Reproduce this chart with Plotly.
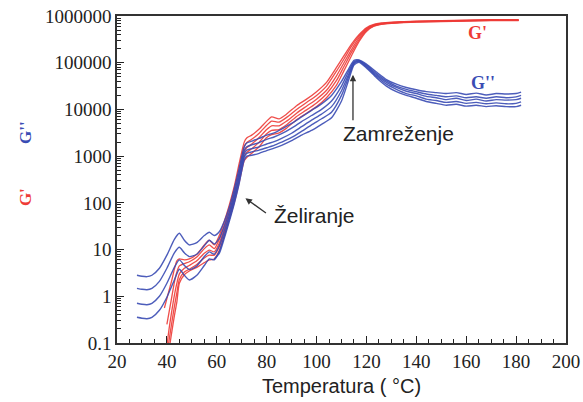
import numpy as np
import plotly.graph_objects as go

# ---- data (temperatures in °C, moduli stored as log10 values) ----
temp_red = [39, 40, 41, 42, 43, 44, 45, 47, 49, 52, 55, 57, 59, 61, 63, 65, 67, 69, 71,
            72, 74, 77, 80, 82, 85, 88, 92, 96, 100, 104, 108, 111, 114, 117, 120, 123, 126,
            130, 135, 140, 150, 160, 170, 181]

g1_log = [-0.25, -0.05, 0.15, 0.35, 0.58, 0.76, 0.8, 0.78, 0.8, 0.9, 1.1, 1.2, 1.1,
          1.3, 1.6, 1.95, 2.35, 2.85, 3.3, 3.39, 3.45, 3.58, 3.75, 3.84, 3.8,
          3.9, 4.08, 4.22, 4.38, 4.58, 4.9, 5.15, 5.4, 5.6, 5.75, 5.82, 5.85,
          5.87, 5.88, 5.89, 5.9, 5.91, 5.92, 5.92]
g2_log = [None, -0.6, -0.3, 0.0, 0.3, 0.52, 0.65, 0.7, 0.74, 0.84, 1.02, 1.1, 1.02,
          1.22, 1.52, 1.87, 2.27, 2.75, 3.2, 3.29, 3.36, 3.49, 3.66, 3.75, 3.73,
          3.83, 4.0, 4.15, 4.3, 4.5, 4.82, 5.08, 5.35, 5.57, 5.73, 5.81, 5.84,
          5.86, 5.875, 5.885, 5.895, 5.905, 5.915, 5.915]
g3_log = [None, -1.05, -0.65, -0.3, 0.02, 0.28, 0.48, 0.6, 0.66, 0.76, 0.92, 0.99, 0.95,
          1.14, 1.44, 1.8, 2.18, 2.64, 3.1, 3.18, 3.26, 3.4, 3.57, 3.65, 3.65,
          3.75, 3.92, 4.07, 4.22, 4.41, 4.72, 5.0, 5.28, 5.53, 5.71, 5.8, 5.83,
          5.855, 5.87, 5.88, 5.89, 5.9, 5.91, 5.91]
g4_log = [None, -1.25, -0.9, -0.55, -0.22, 0.08, 0.36, 0.52, 0.58, 0.68, 0.82, 0.88, 0.88,
          1.06, 1.36, 1.72, 2.08, 2.52, 3.0, 3.08, 3.16, 3.3, 3.48, 3.55, 3.57,
          3.67, 3.85, 3.99, 4.14, 4.33, 4.62, 4.92, 5.22, 5.49, 5.69, 5.79, 5.83,
          5.85, 5.865, 5.875, 5.885, 5.895, 5.905, 5.905]
g5_log = [None, -1.45, -1.1, -0.75, -0.42, -0.12, 0.28, 0.46, 0.54, 0.62, 0.72, 0.78, 0.8,
          0.98, 1.28, 1.64, 2.0, 2.44, 2.9, 2.97, 3.06, 3.2, 3.4, 3.46, 3.5,
          3.6, 3.78, 3.92, 4.06, 4.25, 4.52, 4.83, 5.15, 5.45, 5.67, 5.78, 5.82,
          5.845, 5.86, 5.87, 5.88, 5.89, 5.9, 5.9]

temp_blue = [28, 30, 32, 34, 37, 40, 43, 45, 47, 49,
             52, 55, 57, 59, 61, 63, 65, 67, 69, 71,
             72, 74, 77, 80, 83, 86, 90, 94, 98, 102,
             106, 110, 113, 115, 117, 120, 124, 128, 132, 136,
             140, 144, 148, 152, 156, 160, 164, 168, 172, 176,
             180, 182]

l1_log = [0.45, 0.43, 0.42, 0.45, 0.6, 0.88, 1.22, 1.35, 1.2, 1.1,
          1.15, 1.3, 1.37, 1.3, 1.38, 1.6, 1.9, 2.3, 2.75, 3.2,
          3.28, 3.32, 3.38, 3.45, 3.5, 3.58, 3.7, 3.84, 3.98, 4.12,
          4.3, 4.6, 4.88, 5.05, 5.06, 4.97, 4.8, 4.64, 4.54, 4.47,
          4.42, 4.38, 4.36, 4.34, 4.36, 4.32, 4.35, 4.31, 4.34, 4.33,
          4.34, 4.37]
l2_log = [0.17, 0.15, 0.14, 0.17, 0.32, 0.6, 0.93, 1.05, 0.93, 0.85,
          0.9, 1.08, 1.2, 1.12, 1.24, 1.5, 1.8, 2.2, 2.65, 3.12,
          3.2, 3.24, 3.29, 3.36, 3.41, 3.48, 3.6, 3.74, 3.87, 4.0,
          4.18, 4.5, 4.83, 5.02, 5.05, 4.95, 4.77, 4.61, 4.5, 4.43,
          4.38, 4.33, 4.3, 4.27, 4.29, 4.25, 4.27, 4.24, 4.27, 4.25,
          4.27, 4.3]
l3_log = [-0.15, -0.17, -0.18, -0.15, 0.0, 0.28, 0.62, 0.78, 0.66, 0.57,
          0.65, 0.85, 0.95, 0.9, 1.08, 1.4, 1.72, 2.12, 2.56, 3.05,
          3.13, 3.16, 3.2, 3.26, 3.31, 3.38, 3.49, 3.63, 3.77, 3.9,
          4.06, 4.4, 4.77, 5.0, 5.04, 4.93, 4.74, 4.58, 4.47, 4.39,
          4.34, 4.28, 4.25, 4.21, 4.24, 4.19, 4.22, 4.18, 4.21, 4.2,
          4.21, 4.24]
l4_log = [-0.45, -0.47, -0.48, -0.45, -0.3, -0.02, 0.35, 0.58, 0.45, 0.35,
          0.45, 0.66, 0.8, 0.78, 0.96, 1.3, 1.65, 2.05, 2.5, 2.98,
          3.06, 3.09, 3.13, 3.18, 3.23, 3.3, 3.4, 3.53, 3.67, 3.8,
          3.94, 4.3, 4.72, 4.98, 5.03, 4.91, 4.71, 4.54, 4.43, 4.34,
          4.29, 4.22, 4.19, 4.15, 4.17, 4.13, 4.15, 4.12, 4.14, 4.12,
          4.13, 4.16]
l5_log = [None, None, None, None, None, None, None, None, None, None,
          None, None, None, 0.8, 0.92, 1.24, 1.6, 1.98, 2.42, 2.92,
          3.0, 3.02, 3.06, 3.12, 3.17, 3.23, 3.33, 3.45, 3.55, 3.68,
          3.82, 4.18, 4.65, 4.95, 5.01, 4.89, 4.68, 4.5, 4.38, 4.3,
          4.24, 4.17, 4.13, 4.09, 4.11, 4.07, 4.09, 4.06, 4.08, 4.06,
          4.06, 4.09]

y_tickvals = [0.1, 1, 10, 100, 1000, 10000, 100000, 1000000]
y_ticktext = ["0.1", "1", "10", "100", "1000", "10000", "100000", "1000000"]
x_tickvals = [20, 40, 60, 80, 100, 120, 140, 160, 180, 200]

RED = "#ee3b37"
BLUE = "#3a4cb4"


def to_lin(vals):
    return [None if v is None else 10 ** v for v in vals]


fig = go.Figure()
for series in [g1_log, g2_log, g3_log, g4_log, g5_log]:
    fig.add_trace(go.Scatter(x=temp_red, y=to_lin(series), mode="lines",
                             line=dict(color=RED, width=1.3, shape="spline", smoothing=0.6),
                             opacity=0.9, showlegend=False, hoverinfo="skip"))
for series in [l1_log, l2_log, l3_log, l4_log, l5_log]:
    fig.add_trace(go.Scatter(x=temp_blue, y=to_lin(series), mode="lines",
                             line=dict(color=BLUE, width=1.4, shape="spline", smoothing=0.6),
                             opacity=0.9, showlegend=False, hoverinfo="skip"))

minor_y = [m * 10 ** e for e in range(-1, 6) for m in range(2, 10)]

fig.update_xaxes(range=[20, 200], tickvals=x_tickvals, ticks="inside", ticklen=7,
                 tickwidth=1.2, tickcolor="#222", automargin=False, ticklabeloverflow="allow",
                 minor=dict(dtick=5, ticks="inside", ticklen=4, tickcolor="#222", tickwidth=1),
                 showline=True, linecolor="#333", linewidth=1.5, mirror=True,
                 showgrid=False, zeroline=False,
                 tickfont=dict(family="Liberation Serif", size=19, color="#222"),
                 title=dict(text="Temperatura ( °C)", standoff=8,
                            font=dict(family="Liberation Sans", size=20, color="#222")))
fig.update_yaxes(type="log", range=[-1, 6], tickvals=y_tickvals, ticktext=y_ticktext,
                 ticks="inside", ticklen=7, tickwidth=1.2, tickcolor="#222", automargin=False,
                 ticklabeloverflow="allow",
                 minor=dict(tickvals=minor_y, ticks="inside", ticklen=4, tickcolor="#222", tickwidth=1),
                 showline=True, linecolor="#333", linewidth=1.5, mirror=True,
                 showgrid=False, zeroline=False,
                 tickfont=dict(family="Liberation Serif", size=19, color="#222"))

ann_font = dict(family="Liberation Sans", size=21, color="#222")
annotations = [
    dict(x=164.6, y=5.64, text="<b>G'</b>", showarrow=False,
         font=dict(family="Liberation Serif", size=18, color=RED)),
    dict(x=166.6, y=4.57, text="<b>G''</b>", showarrow=False,
         font=dict(family="Liberation Serif", size=18, color=BLUE)),
    dict(x=114.6, y=4.74, ax=0, ay=47, text="", showarrow=True, arrowhead=2,
         arrowsize=1, arrowwidth=1.3, arrowcolor="#333"),
    dict(x=132.8, y=3.49, text="Zamreženje", showarrow=False, font=ann_font),
    dict(x=71.5, y=2.10, ax=22, ay=16, text="", showarrow=True, arrowhead=2,
         arrowsize=1, arrowwidth=1.3, arrowcolor="#333"),
    dict(x=82.0, y=1.74, text="Želiranje", showarrow=False, xanchor="left", font=ann_font),
    dict(xref="paper", yref="paper", x=-0.205, y=0.645, text="<b>G''</b>", textangle=-90,
         xanchor="center", yanchor="middle",
         showarrow=False, font=dict(family="Liberation Serif", size=17, color=BLUE)),
    dict(xref="paper", yref="paper", x=-0.205, y=0.446, text="<b>G'</b>", textangle=-90,
         xanchor="center", yanchor="middle",
         showarrow=False, font=dict(family="Liberation Serif", size=17, color=RED)),
]
fig.update_layout(width=583, height=402, margin=dict(l=117, r=17, t=16, b=59),
                  paper_bgcolor="white", plot_bgcolor="white",
                  annotations=annotations)

# remove the browser's default 8 px body margin so the figure fills the window exactly
fig.write_html("out.html", config={"displayModeBar": False},
               post_script="document.body.style.margin='0';document.body.style.overflow='hidden';")
